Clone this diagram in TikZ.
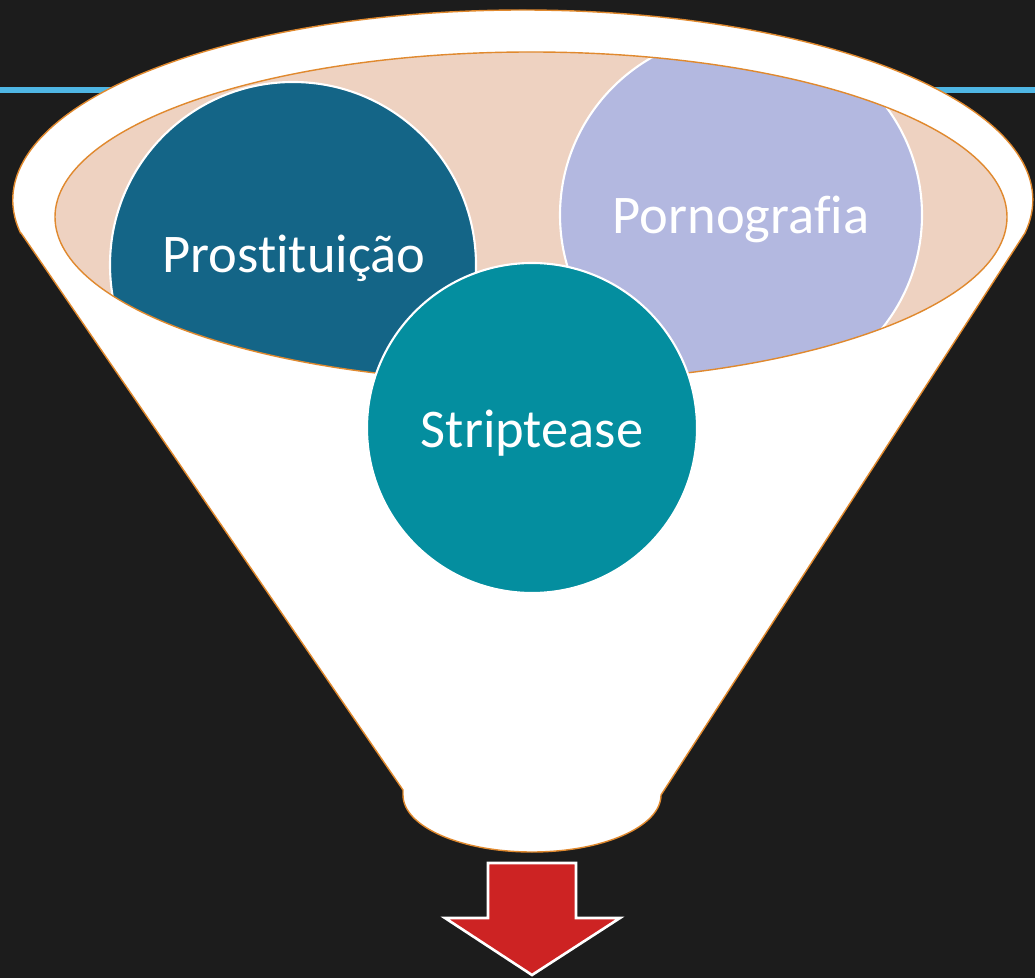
\documentclass[tikz,border=0pt]{standalone}
\usepackage{fontspec}
\setmainfont{Carlito}[Ligatures=CommonOff]
\definecolor{quadro}{HTML}{1C1C1C}
\definecolor{azulclaro}{HTML}{4FB6E4}
\definecolor{laranja}{HTML}{E0892E}
\definecolor{pessego}{HTML}{EED2C1}
\definecolor{azulesc}{HTML}{146587}
\definecolor{lavanda}{HTML}{B3B8E0}
\definecolor{turquesa}{HTML}{048E9F}
\definecolor{vermelho}{HTML}{CD2323}
\begin{document}
\begin{tikzpicture}[x=0.2mm, y=0.2mm,
  bola/.style={draw=white, line width=1.2pt},
  rotulo/.style={text=white, anchor=base, font=\fontsize{31}{36}\selectfont}]
% Fundo
\fill[quadro] (0,0) rectangle (1035,978);
\useasboundingbox (0,0) rectangle (1035,978);
\draw[azulclaro, line width=3pt] (0,888) -- (1035,888);

% Funil
\filldraw[fill=white, draw=laranja, line width=0.8pt]
  (21,745) -- (403,188) -- (403,183)
  arc[start angle=180, end angle=360, x radius=129, y radius=57]
  -- (1025,745)
  arc[start angle=-10, end angle=190, x radius=510, y radius=190] -- cycle;

% Boca do funil
\begin{scope}
\clip (531,761) ellipse[x radius=476, y radius=165];
\fill[pessego] (531,761) ellipse[x radius=476, y radius=165];
\filldraw[fill=azulesc, bola] (293,713) circle[radius=183];
\filldraw[fill=lavanda, bola] (741,763) circle[radius=181];
\end{scope}
\draw[laranja, line width=0.8pt] (531,761) ellipse[x radius=476, y radius=165];
\filldraw[fill=turquesa, bola] (532,550) circle[radius=165];

% Rotulos
\node[rotulo] (prost) at (294,705) {Prostituição};
\node[rotulo] (porno) at (741,744) {Pornografia};
\node[rotulo] (strip) at (532,530) {Striptease};

% Seta
\filldraw[fill=vermelho, draw=white, line width=1.5pt]
  (488,115) -- (576,115) -- (576,60) -- (620,60) -- (532,3) -- (445,60) -- (488,60) -- cycle;
\end{tikzpicture}
\end{document}
